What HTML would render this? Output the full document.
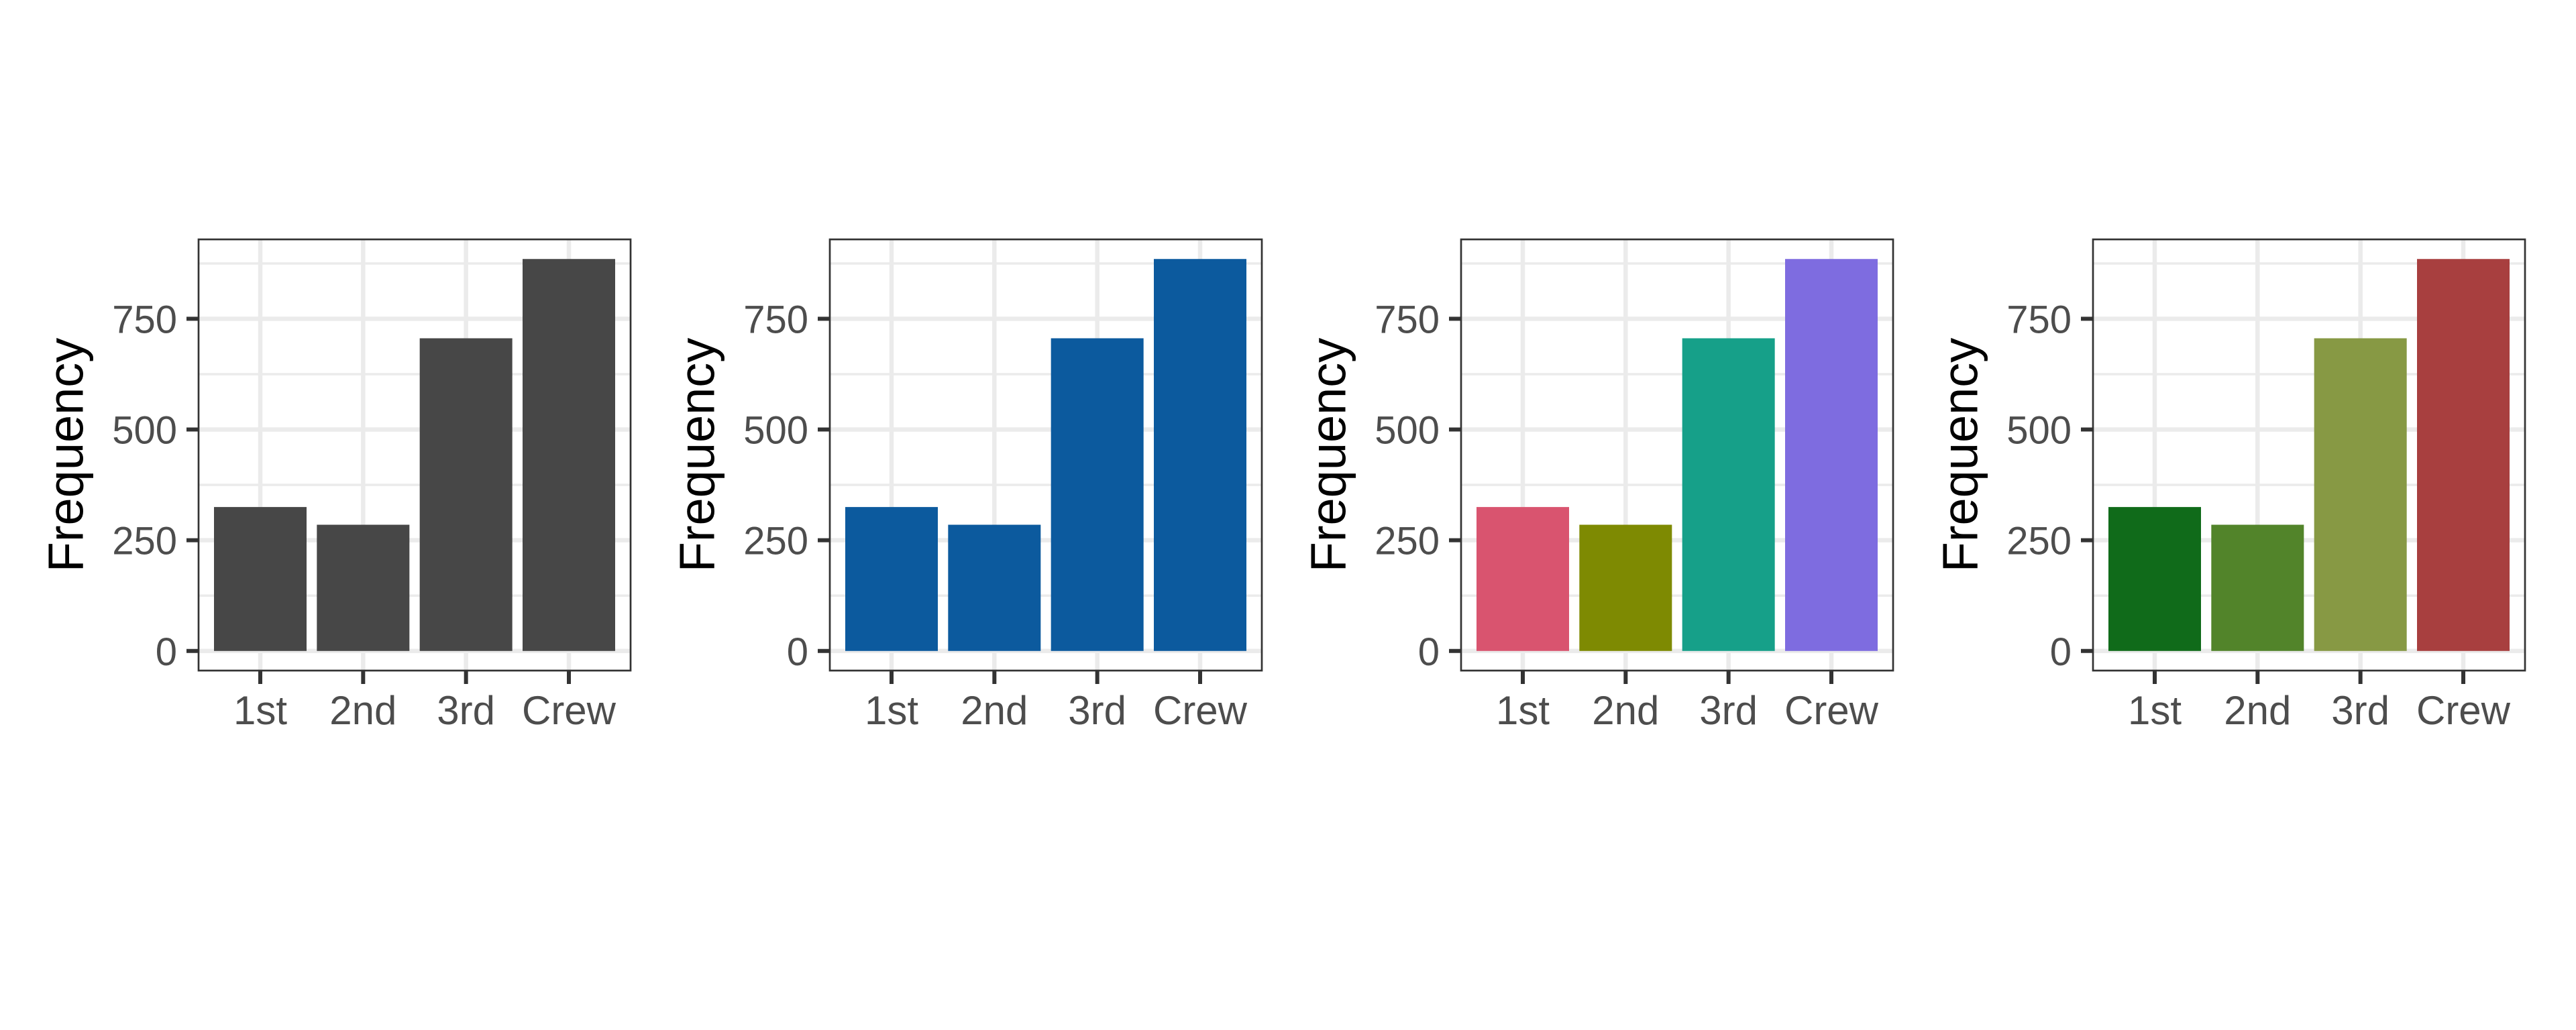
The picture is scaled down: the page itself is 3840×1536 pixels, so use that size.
<!DOCTYPE html>
<html><head><meta charset="utf-8"><style>
html,body{margin:0;padding:0;background:#fff;}
svg{display:block;font-family:"Liberation Sans",Arial,sans-serif;}
</style></head><body>
<svg id="chart" width="3840" height="1536" viewBox="0 0 3840 1536" xmlns="http://www.w3.org/2000/svg"></svg>
<script>
const categories = ["1st", "2nd", "3rd", "Crew"];
const frequencies = [325, 285, 706, 885];
const yTicks = [0, 250, 500, 750];
const yMinor = [125, 375, 625, 875];
const palettes = [
  ["#474747", "#474747", "#474747", "#474747"],
  ["#0C5A9E", "#0C5A9E", "#0C5A9E", "#0C5A9E"],
  ["#D9546F", "#7E8A02", "#16A089", "#7E6CE0"],
  ["#106B1A", "#52842A", "#879944", "#A83F3F"]
];
const panelNames = ["grey", "blue", "multicolor", "green-red"];

const svg = document.getElementById('chart');
const NS = "http://www.w3.org/2000/svg";
function mk(tag, attrs, parent){ const e=document.createElementNS(NS,tag); for(const k in attrs) e.setAttribute(k,attrs[k]); (parent||svg).appendChild(e); return e; }

const panelLefts = [296, 1237, 2178, 3120];
const PW = 644, PT = 357, PB = 1000;
const maxV = Math.max(...frequencies);
const yLo = -0.05*maxV, yHi = maxV*1.05;
function yScale(v){ return PB - (v - yLo)/(yHi - yLo)*(PB-PT); }

panelLefts.forEach((L, p) => {
  const g = mk('g', {});
  
  
  const xScale = i => L + (i + 1 - 0.4)/4.2*PW;
  const bw = 0.9/4.2*PW;
  // minor grid
  yMinor.forEach(v => { const l=mk('line',{x1:L,x2:L+PW,y1:yScale(v),y2:yScale(v),stroke:'#EBEBEB','stroke-width':3.5},g);
      });
  yTicks.forEach(v => { const l=mk('line',{x1:L,x2:L+PW,y1:yScale(v),y2:yScale(v),stroke:'#EBEBEB','stroke-width':6.5},g);
      });
  categories.forEach((c,i) => { const l=mk('line',{x1:xScale(i),x2:xScale(i),y1:PT,y2:PB,stroke:'#EBEBEB','stroke-width':6.5},g);
      });
  // bars
  frequencies.forEach((v,i) => {
    const r = mk('rect',{x:xScale(i)-bw/2,y:yScale(v),width:bw,height:yScale(0)-yScale(v),fill:palettes[p][i]},g);
    
    
  });
  // frame
  const f = mk('rect',{x:L,y:PT,width:PW,height:PB-PT,fill:'none',stroke:'#333333','stroke-width':2.7},g);
   
  // y ticks + labels
  yTicks.forEach(v => {
    const t = mk('line',{x1:L-18,x2:L,y1:yScale(v),y2:yScale(v),stroke:'#333333','stroke-width':6},g);
     
    const tx = mk('text',{x:L-32,y:yScale(v)+21,'text-anchor':'end','font-size':58,fill:'#4D4D4D'},g);
    tx.textContent = v;
     
  });
  categories.forEach((c,i) => {
    const t = mk('line',{x1:xScale(i),x2:xScale(i),y1:PB,y2:PB+20,stroke:'#333333','stroke-width':6},g);
     
    const tx = mk('text',{x:xScale(i),y:1080,'text-anchor':'middle','font-size':60,fill:'#4D4D4D'},g);
    tx.textContent = c;
     
  });
  const cy = (PT+PB)/2;
  const at = mk('text',{x:L-198,y:cy,'text-anchor':'middle','font-size':74,fill:'#000',transform:`rotate(-90 ${L-198} ${cy})`,'dominant-baseline':'central'},g);
  at.textContent = 'Frequency';
   
});
</script>
</body></html>
